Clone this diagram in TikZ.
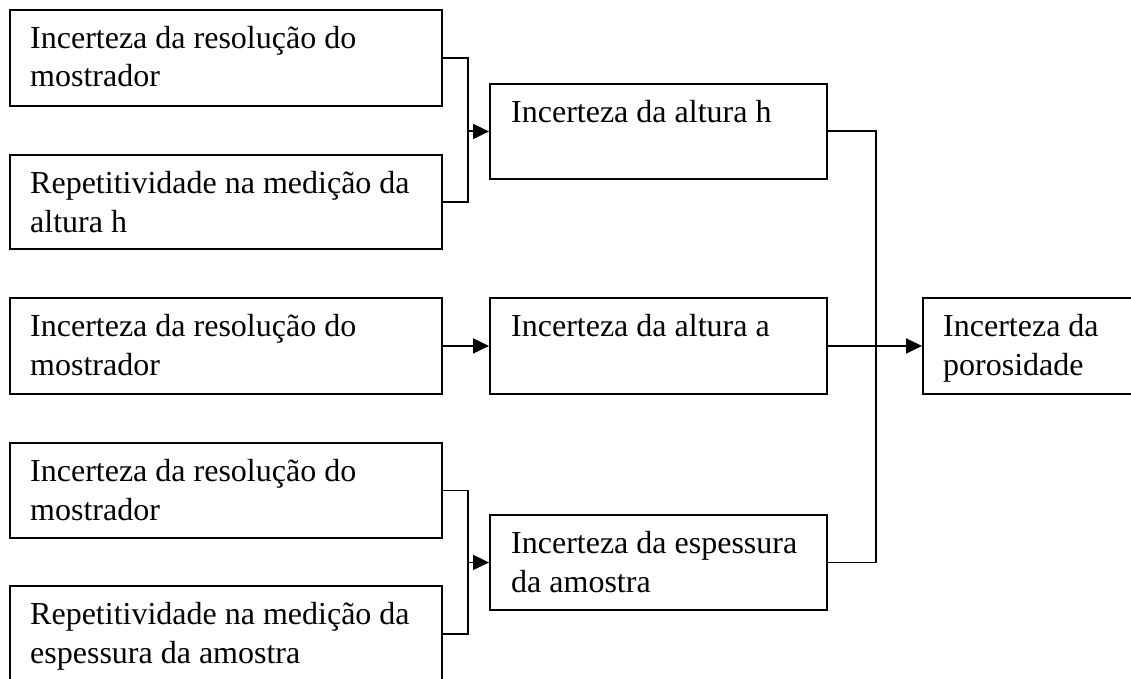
\documentclass[tikz,border=0pt]{standalone}
\usepackage{fontspec}
\setmainfont{Liberation Serif}
\usetikzlibrary{arrows.meta,calc}
\begin{document}
\begin{tikzpicture}[x=1pt,y=-1pt,
  box/.style={draw, line width=1.9pt, rectangle, inner sep=0pt, anchor=north west},
  lbl/.style={anchor=base west, inner sep=0pt, font=\fontsize{32}{38.5}\selectfont},
  conn/.style={line width=1.9pt},
  arr/.style={line width=1.9pt, -{Triangle[length=16pt,width=15pt]}}]
\useasboundingbox (0,0) rectangle (1131,679);
% boxes
\node[box, minimum width=432pt, minimum height=96pt] (b1) at (9,9) {};
\node[box, minimum width=432pt, minimum height=94pt] (b2) at (9,154) {};
\node[box, minimum width=432pt, minimum height=96pt] (b3) at (9,297) {};
\node[box, minimum width=432pt, minimum height=95pt] (b4) at (9,442) {};
\node[box, minimum width=432pt, minimum height=96pt] (b5) at (9,585) {};
\node[box, minimum width=337pt, minimum height=95pt] (m1) at (489,83) {};
\node[box, minimum width=337pt, minimum height=96pt] (m2) at (489,297) {};
\node[box, minimum width=337pt, minimum height=95pt] (m3) at (489,514) {};
\node[box, minimum width=209pt, minimum height=96pt] (r) at (922,297) {};
% labels
\node[lbl] (t1) at ($(b1.north west)+(21,39.5)$) {\parbox[t]{400pt}{Incerteza da resolução do\\mostrador}};
\node[lbl] (t2) at ($(b2.north west)+(21,39.5)$) {\parbox[t]{400pt}{Repetitividade na medição da\\altura h}};
\node[lbl] (t3) at ($(b3.north west)+(21,39.5)$) {\parbox[t]{400pt}{Incerteza da resolução do\\mostrador}};
\node[lbl] (t4) at ($(b4.north west)+(21,39.5)$) {\parbox[t]{400pt}{Incerteza da resolução do\\mostrador}};
\node[lbl] (t5) at ($(b5.north west)+(21,39.5)$) {\parbox[t]{400pt}{Repetitividade na medição da\\espessura da amostra}};
\node[lbl] (t6) at ($(m1.north west)+(22,39.5)$) {\parbox[t]{310pt}{Incerteza da altura h}};
\node[lbl] (t7) at ($(m2.north west)+(22,39.5)$) {\parbox[t]{310pt}{Incerteza da altura a}};
\node[lbl] (t8) at ($(m3.north west)+(22,39.5)$) {\parbox[t]{310pt}{Incerteza da espessura\\da amostra}};
\node[lbl] (t9) at ($(r.north west)+(21,39.5)$) {\parbox[t]{185pt}{Incerteza da\\porosidade}};
% junctions
\coordinate (j1) at ($(b1.east)+(25,0)$);
\coordinate (j2) at ($(b4.east)+(25,0)$);
\coordinate (j3) at ($(m1.east)+(48,0)$);
% connectors
\draw[conn] (b1.east) -- (j1) |- (b2.east);
\draw[arr] (j1 |- m1.west) -- (m1.west);
\draw[arr] (b3.east) -- (m2.west);
\draw[conn] (b4.east) -- (j2) |- (b5.east);
\draw[arr] (j2 |- m3.west) -- (m3.west);
\draw[conn] (m1.east) -- (j3) |- (m3.east);
\draw[arr] (m2.east) -- (r.west);
\draw[conn, line width=2.6pt] (j3 |- m2.east) -- ($(r.west)+(-10,0)$);
\end{tikzpicture}
\end{document}
